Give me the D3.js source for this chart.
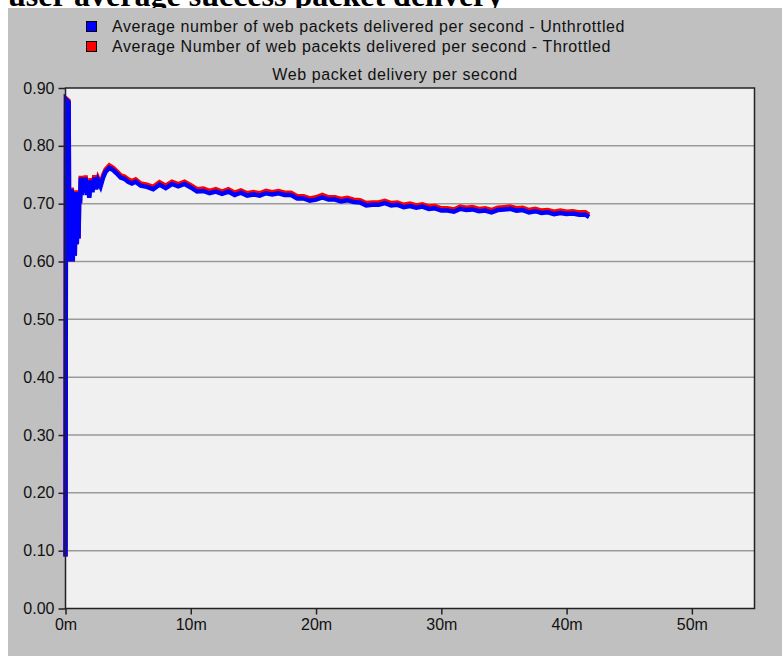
<!DOCTYPE html>
<html>
<head>
<meta charset="utf-8">
<style>
body { margin: 0; background: #fff; }
svg { display: block; }
.tick text { font-family: "Liberation Sans", Arial, sans-serif; font-size: 16px; fill: #111; }
</style>
</head>
<body>
<script src="https://d3js.org/d3.v7.min.js"></script>
<script>
const W = 782, H = 656;

// minutes
const times = [0, 0.04, 0.25, 0.3, 0.36, 0.42, 0.5, 0.58, 0.66, 0.74, 0.82, 0.9, 0.98, 1.04, 1.1, 1.16, 1.22, 1.3, 1.4, 1.5,
  1.6, 1.7, 1.8, 1.9, 2.0, 2.15, 2.3, 2.45, 2.6, 2.8, 3.0, 3.2, 3.5, 3.8, 4.1, 4.4, 4.7, 5.0, 5.3, 5.6,
  6.0, 6.5, 7.0, 7.5, 8.0, 8.5, 9.0, 9.5, 10.0, 10.5, 11.0, 11.5, 12.0, 12.5, 13.0, 13.5, 14.0, 14.5, 15.0, 15.5,
  16.0, 16.5, 17.0, 17.5, 18.0, 18.5, 19.0, 19.5, 20.0, 20.5, 21.0, 21.5, 22.0, 22.5, 23.0, 23.5, 24.0, 24.5, 25.0, 25.5,
  26.0, 26.5, 27.0, 27.5, 28.0, 28.5, 29.0, 29.5, 30.0, 30.5, 31.0, 31.5, 32.0, 32.5, 33.0, 33.5, 34.0, 34.5, 35.0, 35.5,
  36.0, 36.5, 37.0, 37.5, 38.0, 38.5, 39.0, 39.5, 40.0, 40.5, 41.0, 41.5, 41.8];

const unthrottled = [0.09, 0.88, 0.875, 0.60, 0.72, 0.60, 0.725, 0.60, 0.71, 0.61, 0.72, 0.63, 0.70, 0.64, 0.72, 0.70, 0.745, 0.715, 0.74, 0.72,
  0.745, 0.715, 0.735, 0.71, 0.74, 0.72, 0.745, 0.725, 0.74, 0.73, 0.745, 0.755, 0.762, 0.758, 0.752, 0.745, 0.743, 0.738, 0.735, 0.738,
  0.731, 0.729, 0.725, 0.733, 0.727, 0.734, 0.730, 0.734, 0.728, 0.721, 0.722, 0.718, 0.721, 0.717, 0.721, 0.715, 0.719, 0.714, 0.716, 0.714,
  0.718, 0.716, 0.718, 0.715, 0.715, 0.709, 0.709, 0.705, 0.707, 0.711, 0.707, 0.707, 0.704, 0.706, 0.703, 0.702, 0.697, 0.698, 0.698, 0.701,
  0.697, 0.698, 0.694, 0.696, 0.693, 0.695, 0.691, 0.692, 0.688, 0.688, 0.686, 0.691, 0.689, 0.690, 0.687, 0.688, 0.685, 0.689, 0.690, 0.691,
  0.688, 0.689, 0.685, 0.687, 0.684, 0.685, 0.682, 0.684, 0.682, 0.683, 0.681, 0.681, 0.677];

const throttled = [0.09, 0.882, 0.878, 0.60, 0.723, 0.60, 0.728, 0.60, 0.713, 0.61, 0.723, 0.63, 0.703, 0.64, 0.723, 0.703, 0.748, 0.719, 0.744, 0.724,
  0.749, 0.719, 0.739, 0.714, 0.744, 0.724, 0.749, 0.729, 0.744, 0.734, 0.749, 0.759, 0.766, 0.762, 0.756, 0.749, 0.747, 0.742, 0.739, 0.742,
  0.735, 0.733, 0.729, 0.737, 0.731, 0.738, 0.734, 0.738, 0.732, 0.725, 0.726, 0.722, 0.725, 0.721, 0.725, 0.719, 0.723, 0.718, 0.720, 0.718,
  0.722, 0.720, 0.722, 0.719, 0.719, 0.713, 0.713, 0.709, 0.711, 0.715, 0.711, 0.711, 0.708, 0.710, 0.707, 0.706, 0.701, 0.702, 0.702, 0.705,
  0.701, 0.702, 0.698, 0.700, 0.697, 0.699, 0.695, 0.696, 0.692, 0.692, 0.690, 0.695, 0.693, 0.694, 0.691, 0.692, 0.689, 0.693, 0.694, 0.695,
  0.692, 0.693, 0.689, 0.691, 0.688, 0.689, 0.686, 0.688, 0.686, 0.687, 0.685, 0.685, 0.681];

const yTicks = [0, 0.1, 0.2, 0.3, 0.4, 0.5, 0.6, 0.7, 0.8, 0.9];
const xTicks = [0, 10, 20, 30, 40, 50];
const legendLabels = [
  "Average number of web packets delivered per second - Unthrottled",
  "Average Number of web pacekts delivered per second - Throttled"
];
const legendColors = ["#0000ff", "#ff0000"];

const svg = d3.select("body").append("svg")
  .attr("width", W)
  .attr("height", H);

// page heading, mostly hidden behind the panel
svg.append("text")
  .attr("x", 8)
  .attr("y", 6)
  .attr("font-family", "Liberation Serif, Times New Roman, serif")
  .attr("font-weight", "bold")
  .attr("font-size", 32)
  .attr("fill", "#000")
  .text("user average success packet delivery");

svg.append("rect")
  .attr("x", 8).attr("y", 8)
  .attr("width", W - 8).attr("height", H - 8)
  .attr("fill", "#c0c0c0");

const x = d3.scaleLinear().domain([0, 55]).range([65.5, 754.5]);
const y = d3.scaleLinear().domain([0, 0.9]).range([608.5, 88]);

// legend
const legend = svg.append("g");
legendLabels.forEach((lab, i) => {
  legend.append("rect")
    .attr("x", 86.5).attr("y", 21.5 + i * 20)
    .attr("width", 10).attr("height", 10)
    .attr("fill", legendColors[i])
    .attr("stroke", "#000");
  legend.append("text")
    .attr("x", 112).attr("y", 32 + i * 20)
    .attr("font-family", "Liberation Sans, Arial, sans-serif")
    .attr("font-size", 16)
    .attr("letter-spacing", 0.6)
    .attr("fill", "#111")
    .text(lab);
});

svg.append("text")
  .attr("x", 395).attr("y", 80)
  .attr("text-anchor", "middle")
  .attr("font-family", "Liberation Sans, Arial, sans-serif")
  .attr("font-size", 16)
  .attr("letter-spacing", 0.6)
  .attr("fill", "#111")
  .text("Web packet delivery per second");

// plot area
svg.append("rect")
  .attr("x", x(0)).attr("y", y(0.9))
  .attr("width", x(55) - x(0)).attr("height", y(0) - y(0.9))
  .attr("fill", "#f0f0f0");

svg.append("g")
  .selectAll("line")
  .data(yTicks.slice(1, -1))
  .join("line")
  .attr("x1", x(0)).attr("x2", x(55))
  .attr("y1", d => y(d)).attr("y2", d => y(d))
  .attr("stroke", "#9a9a9a")
  .attr("stroke-width", 1.5);

const line = d3.line()
  .x(d => x(d[0]))
  .y(d => y(d[1]));

const plot = svg.append("g");
plot.append("path")
  .datum(times.map((t, i) => [t, throttled[i]]))
  .attr("d", line)
  .attr("fill", "none")
  .attr("stroke", "#ff0000")
  .attr("stroke-width", 4.5);
plot.append("path")
  .datum(times.map((t, i) => [t, unthrottled[i]]))
  .attr("d", line)
  .attr("fill", "none")
  .attr("stroke", "#0000ff")
  .attr("stroke-width", 4.5);

// frame
svg.append("rect")
  .attr("x", x(0)).attr("y", y(0.9))
  .attr("width", x(55) - x(0)).attr("height", y(0) - y(0.9))
  .attr("fill", "none")
  .attr("stroke", "#222")
  .attr("stroke-width", 1.5);

const yAxis = d3.axisLeft(y)
  .tickValues(yTicks)
  .tickFormat(d3.format(".2f"))
  .tickSize(7)
  .tickPadding(4);
svg.append("g")
  .attr("transform", `translate(${x(0)},0)`)
  .call(yAxis)
  .call(g => g.select(".domain").remove())
  .call(g => g.selectAll(".tick line").attr("stroke", "#222").attr("stroke-width", 1.5));

const xAxis = d3.axisBottom(x)
  .tickValues(xTicks)
  .tickFormat(d => `${d}m`)
  .tickSize(6)
  .tickPadding(4);
svg.append("g")
  .attr("transform", `translate(0,${y(0)})`)
  .call(xAxis)
  .call(g => g.select(".domain").remove())
  .call(g => g.selectAll(".tick line").attr("stroke", "#222").attr("stroke-width", 1.5));
</script>
</body>
</html>
